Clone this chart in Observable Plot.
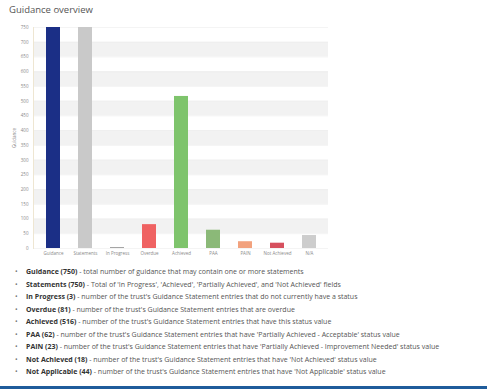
<!DOCTYPE html>
<html>
<head>
<meta charset="utf-8">
<script src="https://cdn.jsdelivr.net/npm/d3@7"></script>
<script src="https://cdn.jsdelivr.net/npm/@observablehq/plot@0.6"></script>
<style>
  html, body { margin: 0; padding: 0; background: #fff; }
  #wrap { position: relative; width: 487px; height: 389px; overflow: hidden; background: #fff;
          font-family: "Open Sans", "DejaVu Sans", sans-serif; }
  #title { position: absolute; left: 9px; top: 3px; font-size: 9.5px; color: #555; }
  #chart { position: absolute; left: 0; top: 0; }
  #notes { position: absolute; left: 15px; top: 266px; margin: 0; padding: 0; list-style: none;
           font-size: 7px; color: #555; line-height: 12.5px; white-space: nowrap; }
  #notes li::before { content: "•"; color: #777; display: inline-block; width: 11px; }
  #notes b { color: #333; }
  #bottom { position: absolute; left: 0; bottom: 0; width: 487px; height: 3px; background: #1f5c9b; }
</style>
</head>
<body>
<div id="wrap">
  <div id="chart"></div>
  <div id="title">Guidance overview</div>
  <ul id="notes"></ul>
  <div id="bottom"></div>
</div>
<script>
const categories = ["Guidance", "Statements", "In Progress", "Overdue", "Achieved", "PAA", "PAIN", "Not Achieved", "N/A"];
const values = [750, 750, 3, 81, 516, 62, 23, 18, 44];
const colors = ["#1b2f86", "#c9c9c9", "#9a9a9a", "#ef6262", "#7ec46c", "#8bb978", "#f2a27e", "#d6505e", "#cdcdcd"];
const yTicks = [0, 50, 100, 150, 200, 250, 300, 350, 400, 450, 500, 550, 600, 650, 700, 750];
const bandStarts = [50, 150, 250, 350, 450, 550, 650];
const noteLabels = ["Guidance (750)", "Statements (750)", "In Progress (3)", "Overdue (81)", "Achieved (516)", "PAA (62)", "PAIN (23)", "Not Achieved (18)", "Not Applicable (44)"];
const noteTexts = [
  "total number of guidance that may contain one or more statements",
  "Total of 'In Progress', 'Achieved', 'Partially Achieved', and 'Not Achieved' fields",
  "number of the trust's Guidance Statement entries that do not currently have a status",
  "number of the trust's Guidance Statement entries that are overdue",
  "number of the trust's Guidance Statement entries that have this status value",
  "number of the trust's Guidance Statement entries that have 'Partially Achieved - Acceptable' status value",
  "number of the trust's Guidance Statement entries that have 'Partially Achieved - Improvement Needed' status value",
  "number of the trust's Guidance Statement entries that have 'Not Achieved' status value",
  "number of the trust's Guidance Statement entries that have 'Not Applicable' status value"
];

const data = categories.map((c, i) => ({category: c, value: values[i], color: colors[i]}));
const bands = bandStarts.map(s => ({lo: s, hi: s + 50}));

const plot = Plot.plot({
  width: 487,
  height: 260,
  marginLeft: 33,
  marginRight: 159,
  marginTop: 27,
  marginBottom: 12,
  style: {fontFamily: "'Open Sans', 'DejaVu Sans', sans-serif", fontSize: "4.5px", color: "#777", background: "transparent"},
  x: {domain: categories, paddingInner: 0.57, paddingOuter: 0.285, label: null},
  y: {domain: [0, 750], label: null},
  marks: [
    Plot.rect(bands, {y1: "lo", y2: "hi", fill: "#f2f2f2"}),
    Plot.ruleY(yTicks, {stroke: "#ececec", strokeWidth: 0.6}),
    Plot.frame({anchor: "left", stroke: "#eee6d2"}),
    Plot.barY(data, {x: "category", y: "value", fill: "color"}),
    Plot.axisY({ticks: yTicks, tickSize: 0, tickPadding: 5, fill: "#888", label: "Guidance", labelAnchor: "center", labelArrow: "none", labelOffset: 21}),
    Plot.axisX({tickSize: 0, tickPadding: 3, fill: "#888"})
  ]
});
document.getElementById("chart").appendChild(plot);

const ul = document.getElementById("notes");
noteLabels.forEach((l, i) => {
  const li = document.createElement("li");
  const b = document.createElement("b");
  b.textContent = l;
  li.appendChild(b);
  li.appendChild(document.createTextNode(" - " + noteTexts[i]));
  ul.appendChild(li);
});
</script>
</body>
</html>
